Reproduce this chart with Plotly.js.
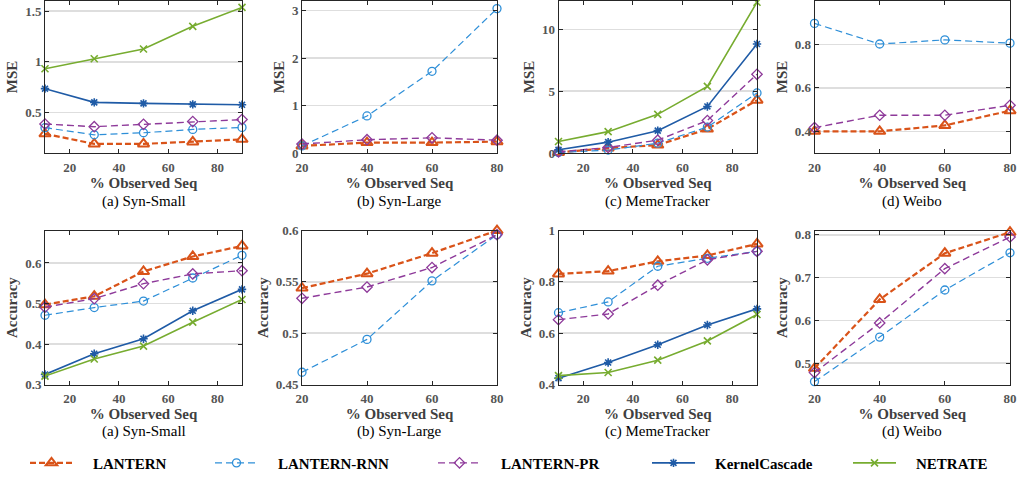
<!DOCTYPE html>
<html>
<head>
<meta charset="utf-8">
<script src="https://cdn.plot.ly/plotly-3.0.1.min.js"></script>
<style>html,body{margin:0;padding:0;background:#fff;}#chart{width:1018px;height:480px;}</style>
</head>
<body>
<div id="chart"></div>
<script>
// ---------- data ----------
const xFive = [10, 30, 50, 70, 90];
const xFour = [20, 40, 60, 80];

const seriesNames = ['LANTERN', 'LANTERN-RNN', 'LANTERN-PR', 'KernelCascade', 'NETRATE'];

// MSE, Syn-Small
const mseSynSmallLANTERN = [0.29, 0.19, 0.19, 0.21, 0.235];
const mseSynSmallRNN = [0.35, 0.28, 0.30, 0.333, 0.353];
const mseSynSmallPR = [0.386, 0.36, 0.383, 0.41, 0.43];
const mseSynSmallKC = [0.735, 0.60, 0.59, 0.58, 0.576];
const mseSynSmallNETRATE = [0.932, 1.03, 1.126, 1.35, 1.537];

// MSE, Syn-Large
const mseSynLargeLANTERN = [0.15, 0.22, 0.22, 0.24];
const mseSynLargeRNN = [0.15, 0.78, 1.72, 3.04];
const mseSynLargePR = [0.19, 0.28, 0.32, 0.27];

// MSE, MemeTracker
const mseMemeLANTERN = [0.05, 0.40, 0.64, 1.94, 4.28];
const mseMemeRNN = [0.05, 0.24, 0.80, 2.10, 4.86];
const mseMemePR = [0.10, 0.45, 1.04, 2.63, 6.37];
const mseMemeKC = [0.26, 0.88, 1.81, 3.77, 8.82];
const mseMemeNETRATE = [0.93, 1.73, 3.13, 5.39, 12.2];

// MSE, Weibo
const mseWeiboLANTERN = [0.40, 0.40, 0.427, 0.495];
const mseWeiboRNN = [0.897, 0.802, 0.821, 0.806];
const mseWeiboPR = [0.417, 0.474, 0.474, 0.52];

// Accuracy, Syn-Small
const accSynSmallLANTERN = [0.497, 0.518, 0.579, 0.616, 0.642];
const accSynSmallRNN = [0.471, 0.49, 0.506, 0.563, 0.619];
const accSynSmallPR = [0.491, 0.512, 0.549, 0.573, 0.581];
const accSynSmallKC = [0.325, 0.376, 0.413, 0.482, 0.535];
const accSynSmallNETRATE = [0.321, 0.363, 0.395, 0.454, 0.51];

// Accuracy, Syn-Large
const accSynLargeLANTERN = [0.544, 0.558, 0.578, 0.600];
const accSynLargeRNN = [0.462, 0.494, 0.551, 0.596];
const accSynLargePR = [0.534, 0.545, 0.564, 0.596];

// Accuracy, MemeTracker
const accMemeLANTERN = [0.831, 0.842, 0.88, 0.903, 0.948];
const accMemeRNN = [0.68, 0.722, 0.861, 0.892, 0.919];
const accMemePR = [0.653, 0.675, 0.787, 0.886, 0.919];
const accMemeKC = [0.425, 0.486, 0.555, 0.632, 0.695];
const accMemeNETRATE = [0.435, 0.447, 0.495, 0.57, 0.673];

// Accuracy, Weibo
const accWeiboLANTERN = [0.488, 0.649, 0.757, 0.806];
const accWeiboRNN = [0.457, 0.561, 0.671, 0.758];
const accWeiboPR = [0.478, 0.594, 0.721, 0.795];

const captions = ['(a) Syn-Small', '(b) Syn-Large', '(c) MemeTracker', '(d) Weibo'];
const xTitle = '% Observed Seq';
const yTitles = ['MSE', 'Accuracy'];

// ---------- styles ----------
const styles = {
  'LANTERN': {color: '#D95319', dash: '6px,3px', width: 2.2, symbol: 'triangle-up-open', size: 10, mlw: 2},
  'LANTERN-RNN': {color: '#2E8FD8', dash: '7px,4px', width: 1.2, symbol: 'circle-open', size: 8, mlw: 1.3},
  'LANTERN-PR': {color: '#8E3A9A', dash: '7px,4px', width: 1.4, symbol: 'diamond-open', size: 8, mlw: 1.3},
  'KernelCascade': {color: '#1F5BA6', dash: 'solid', width: 1.6, symbol: 'asterisk-open', size: 7, mlw: 1.6},
  'NETRATE': {color: '#77AC30', dash: 'solid', width: 1.6, symbol: 'x-thin-open', size: 7, mlw: 1.6}
};

const panels = [
  {row: 0, col: 0, x: xFive, series: {'LANTERN': mseSynSmallLANTERN, 'LANTERN-RNN': mseSynSmallRNN, 'LANTERN-PR': mseSynSmallPR, 'KernelCascade': mseSynSmallKC, 'NETRATE': mseSynSmallNETRATE}, yr: [0.1, 1.6], xr: [10, 90], dy: 0.5, legend: true},
  {row: 0, col: 1, x: xFour, series: {'LANTERN': mseSynLargeLANTERN, 'LANTERN-RNN': mseSynLargeRNN, 'LANTERN-PR': mseSynLargePR}, yr: [0, 3.2], xr: [20, 80], dy: 1},
  {row: 0, col: 2, x: xFive, series: {'LANTERN': mseMemeLANTERN, 'LANTERN-RNN': mseMemeRNN, 'LANTERN-PR': mseMemePR, 'KernelCascade': mseMemeKC, 'NETRATE': mseMemeNETRATE}, yr: [0, 12.3], xr: [10, 90], dy: 5},
  {row: 0, col: 3, x: xFour, series: {'LANTERN': mseWeiboLANTERN, 'LANTERN-RNN': mseWeiboRNN, 'LANTERN-PR': mseWeiboPR}, yr: [0.3, 1.0001], xr: [20, 80], dy: 0.2},
  {row: 1, col: 0, x: xFive, series: {'LANTERN': accSynSmallLANTERN, 'LANTERN-RNN': accSynSmallRNN, 'LANTERN-PR': accSynSmallPR, 'KernelCascade': accSynSmallKC, 'NETRATE': accSynSmallNETRATE}, yr: [0.3, 0.68], xr: [10, 90], dy: 0.1},
  {row: 1, col: 1, x: xFour, series: {'LANTERN': accSynLargeLANTERN, 'LANTERN-RNN': accSynLargeRNN, 'LANTERN-PR': accSynLargePR}, yr: [0.45, 0.6], xr: [20, 80], dy: 0.05},
  {row: 1, col: 2, x: xFive, series: {'LANTERN': accMemeLANTERN, 'LANTERN-RNN': accMemeRNN, 'LANTERN-PR': accMemePR, 'KernelCascade': accMemeKC, 'NETRATE': accMemeNETRATE}, yr: [0.4, 1.0], xr: [10, 90], dy: 0.2},
  {row: 1, col: 3, x: xFour, series: {'LANTERN': accWeiboLANTERN, 'LANTERN-RNN': accWeiboRNN, 'LANTERN-PR': accWeiboPR}, yr: [0.45, 0.81], xr: [20, 80], dy: 0.1}
];

// ---------- layout geometry (pixels) ----------
const W = 1018, H = 480;
const colPx = [[45, 242], [302, 497], [558.5, 757], [814.5, 1010]];
const rowPx = [[1, 154], [232, 387]];
const captionY = [203, 434];
const legendPx = [25, 210, 433, 647, 848];

const FONT = 'Liberation Serif';
const PAD = '\u00a0\u00a0\u00a0\u00a0';
const traces = [];
const layout = {
  width: W, height: H,
  margin: {l: 0, r: 0, t: 0, b: 0},
  paper_bgcolor: '#fff', plot_bgcolor: '#fff',
  font: {family: FONT, color: '#000'},
  showlegend: true,
  annotations: []
};
const legendIds = seriesNames.map((n, k) => k === 0 ? 'legend' : 'legend' + (k + 1));
legendIds.forEach((id, k) => {
  layout[id] = {
    orientation: 'h', x: legendPx[k] / W, xanchor: 'left', y: 1 - 466 / H, yanchor: 'middle',
    font: {family: FONT, size: 15, color: '#000', weight: 'bold'},
    itemwidth: 43, tracegroupgap: 0, bgcolor: 'rgba(0,0,0,0)', borderwidth: 0
  };
});

panels.forEach((p, i) => {
  const idx = i + 1;
  const sfx = idx === 1 ? '' : String(idx);
  const cx = colPx[p.col], ry = rowPx[p.row];
  layout['xaxis' + sfx] = {
    domain: [cx[0] / W, cx[1] / W], anchor: 'y' + sfx,
    range: p.xr, dtick: 20, tick0: 0, ticks: 'inside', ticklen: 4, tickcolor: '#262626',
    showline: true, linecolor: '#262626', linewidth: 1, mirror: 'ticks',
    showgrid: false, zeroline: false, ticklabelstandoff: 2,
    tickfont: {family: FONT, size: 13, color: '#555', weight: 'bold'},
    title: {text: xTitle, font: {family: FONT, size: 15, color: '#404040', weight: 'bold'}, standoff: 2}
  };
  layout['yaxis' + sfx] = {
    domain: [1 - ry[1] / H, 1 - ry[0] / H], anchor: 'x' + sfx,
    range: p.yr, dtick: p.dy, ticks: 'inside', ticklen: 4, tickcolor: '#262626',
    showline: true, linecolor: '#262626', linewidth: 1, mirror: 'ticks',
    showgrid: true, gridcolor: '#dedede', gridwidth: 1.6, zeroline: false,
    tickfont: {family: FONT, size: 13, color: '#555', weight: 'bold'},
    title: {text: yTitles[p.row], font: {family: FONT, size: 15, color: '#404040', weight: 'bold'}, standoff: 3}
  };
  layout.annotations.push({
    text: captions[p.col], xref: 'paper', yref: 'paper',
    x: (cx[0] + cx[1]) / 2 / W, y: 1 - captionY[p.row] / H, xanchor: 'center', yanchor: 'middle',
    showarrow: false, font: {family: FONT, size: 15, color: '#000'}
  });
  seriesNames.forEach((name, k) => {
    if (!p.series[name]) return;
    const s = styles[name];
    traces.push({
      type: 'scatter', mode: 'lines+markers', name: PAD + name, legendgroup: name,
      legend: legendIds[k],
      showlegend: !!p.legend,
      x: p.x, y: p.series[name],
      xaxis: 'x' + sfx, yaxis: 'y' + sfx,
      line: {color: s.color, dash: s.dash, width: s.width},
      marker: {symbol: s.symbol, size: s.size, color: s.color, line: {color: s.color, width: s.mlw}},
      cliponaxis: false
    });
  });
});

Plotly.newPlot('chart', traces, layout, {staticPlot: true, displayModeBar: false});
</script>
</body>
</html>
